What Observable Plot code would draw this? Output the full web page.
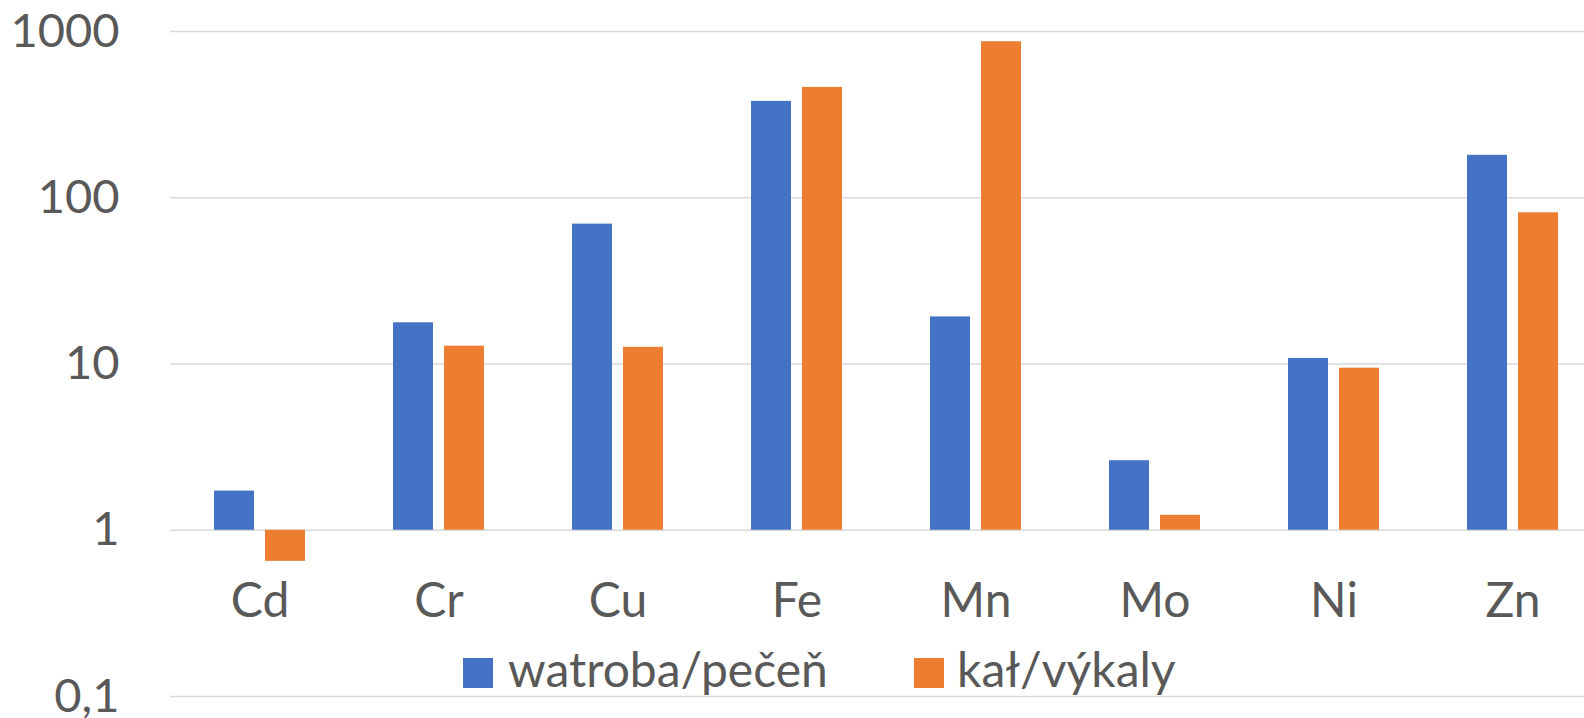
<!DOCTYPE html>
<html>
<head>
<meta charset="utf-8">
<script src="https://cdn.jsdelivr.net/npm/d3@7"></script>
<script src="https://cdn.jsdelivr.net/npm/@observablehq/plot@0.6"></script>
<style>
  html, body { margin: 0; padding: 0; background: #fff; overflow: hidden; }
  #wrap { position: relative; width: 1584px; height: 718px; overflow: hidden; }
  #legend { position: absolute; left: 0; top: 0; width: 1584px; height: 718px; pointer-events: none;
            font-family: Lato, sans-serif; color: #595959; }
  .sw { position: absolute; width: 30px; height: 30px; }
  .lt { position: absolute; font-size: 48px; line-height: 48px; white-space: nowrap; }
</style>
</head>
<body>
<div id="wrap"></div>
<script>
// ---- data ----
const elements = ["Cd", "Cr", "Cu", "Fe", "Mn", "Mo", "Ni", "Zn"];
const seriesNames = ["watroba/pečeň", "kał/výkaly"];
const liverValues = [1.72, 17.7, 69.4, 380, 19.2, 2.62, 10.8, 180];
const fecesValues = [0.65, 12.8, 12.6, 461, 868, 1.23, 9.44, 81.2];
const yTicks = [0.1, 1, 10, 100, 1000];
const seriesColors = ["#4472C4", "#ED7D31"];

const rows = [];
elements.forEach((e, i) => {
  rows.push({element: e, series: seriesNames[0], value: liverValues[i]});
  rows.push({element: e, series: seriesNames[1], value: fecesValues[i]});
});

// ---- layout ----
const W = 1602, H = 718;
const mL = 170, mR = 0, mT = 31, mB = 22;
const step = (W - mL - mR) / elements.length;
const barW = 40, gap = 11;
const outer = step / 2 - gap / 2 - barW;   // inset on the far side
const inner = step / 2 + gap / 2;          // inset on the near side
const textColor = "#595959";

const chart = Plot.plot({
  width: W,
  height: H,
  marginLeft: mL,
  marginRight: mR,
  marginTop: mT,
  marginBottom: mB,
  style: {fontFamily: "Lato, sans-serif", fontSize: "47px", color: textColor, background: "#fff"},
  x: {domain: elements, padding: 0, axis: null},
  y: {
    type: "log",
    domain: [0.1, 1000],
    ticks: yTicks,
    tickSize: 0,
    tickPadding: 51,
    tickFormat: d => String(d).replace(".", ","),
    label: null
  },
  marks: [
    Plot.ruleY(yTicks, {stroke: "#d9d9d9", strokeWidth: 1.4}),
    Plot.barY(rows.filter(d => d.series === seriesNames[0]), {
      x: "element", y1: 1, y2: "value", fill: seriesColors[0],
      insetLeft: outer, insetRight: inner
    }),
    Plot.barY(rows.filter(d => d.series === seriesNames[1]), {
      x: "element", y1: 1, y2: "value", fill: seriesColors[1],
      insetLeft: inner, insetRight: outer
    }),
    Plot.text(elements, {x: d => d, y: 1, dy: 71, text: d => d, fontSize: 48, fill: textColor})
  ]
});
chart.style.display = "block";
chart.style.maxWidth = "none";
chart.style.width = W + "px";
chart.style.height = H + "px";
document.getElementById("wrap").appendChild(chart);

// ---- legend (overlaid below the category labels) ----
const legend = document.createElement("div");
legend.id = "legend";
const legendPos = [{sw: 463, tx: 508}, {sw: 914, tx: 957}];
seriesNames.forEach((name, i) => {
  const sw = document.createElement("div");
  sw.className = "sw";
  sw.style.left = legendPos[i].sw + "px";
  sw.style.top = "658px";
  sw.style.background = seriesColors[i];
  const t = document.createElement("div");
  t.className = "lt";
  t.style.left = legendPos[i].tx + "px";
  t.style.top = "645px";
  t.textContent = name;
  legend.appendChild(sw);
  legend.appendChild(t);
});
document.getElementById("wrap").appendChild(legend);
</script>
</body>
</html>
